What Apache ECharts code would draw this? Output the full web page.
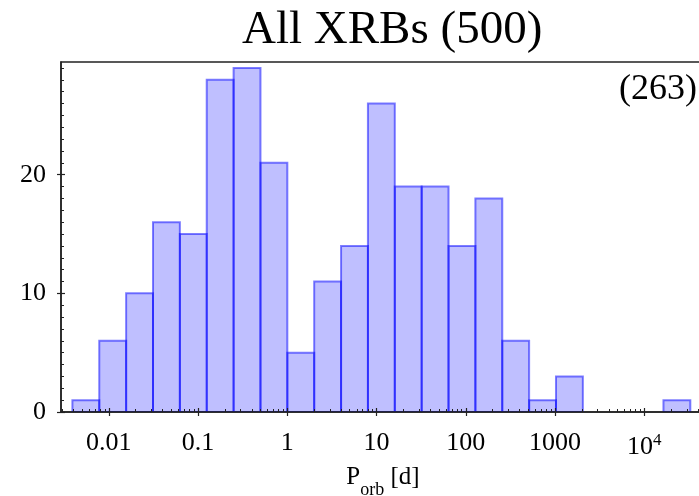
<!DOCTYPE html>
<html>
<head>
<meta charset="utf-8">
<script src="https://cdn.jsdelivr.net/npm/echarts@6/dist/echarts.min.js"></script>
<style>
  html, body { margin: 0; padding: 0; background: #fff; }
  #chart { width: 699px; height: 496px; }
</style>
</head>
<body>
<div id="chart"></div>
<script>
// bin edges are powers of two: 2^-8 ... 2^15 days
const binEdgesLog2 = [-8, -7, -6, -5, -4, -3, -2, -1, 0, 1, 2, 3, 4, 5, 6, 7, 8, 9, 10, 11, 12, 13, 14, 15]
const counts = [1, 6, 10, 16, 15, 28, 29, 21, 5, 11, 14, 26, 19, 19, 14, 18, 6, 1, 3, 0, 0, 0, 1]
const majorTicks = [-2, -1, 0, 1, 2, 3, 4]           // log10 of 0.01 ... 10^4
const tickLabels = ['0.01', '0.1', '1', '10', '100', '1000', '{b|10}{s|4}']
const yTicks = [0, 10, 20]
const titleText = 'All XRBs (500)'
const subsetText = '(263)'

const FONT = 'Liberation Serif'
const xMin = -2.536
const xMax = 4.68
const yMax = 29.5

// log-spaced minor ticks (2..9 x 10^n)
const minorTicks = []
for (let n = -3; n <= 4; n++) {
  for (let k = 2; k <= 9; k++) {
    const v = n + Math.log10(k)
    if (v > xMin && v < xMax) minorTicks.push(v)
  }
}
const yMinor = []
for (let i = 1; i < yMax; i++) if (i % 10 !== 0) yMinor.push(i)

const LOG2 = Math.log10(2)
const histData = counts.map((c, i) => [binEdgesLog2[i] * LOG2, binEdgesLog2[i + 1] * LOG2, c])

function renderBar(params, api) {
  if (!api.value(2)) return null
  const lo = api.coord([api.value(0), 0])
  const hi = api.coord([api.value(1), api.value(2)])
  return {
    type: 'rect',
    shape: { x: lo[0], y: hi[1], width: hi[0] - lo[0], height: lo[1] - hi[1] },
    style: { fill: 'rgba(0,0,255,0.25)', stroke: 'rgba(0,0,255,0.5)', lineWidth: 2 },
  }
}

const base = { type: 'value', min: xMin, max: xMax, position: 'bottom', offset: 0, z: 5, splitLine: { show: false } }
const yBase = { type: 'value', min: 0, max: yMax, position: 'left', offset: 0, z: 5, splitLine: { show: false } }
const noZero = (line) => ({ onZero: false, ...line })

const chart = echarts.init(document.getElementById('chart'), null, { renderer: 'canvas' })
chart.setOption({
  animation: false,
  title: {
    text: titleText,
    left: 242, top: 7, padding: 0,
    textStyle: { fontFamily: FONT, fontSize: 47, fontWeight: 'normal', color: '#000' },
  },
  graphic: [{
    type: 'text', right: 2, top: 72,
    style: { text: subsetText, font: '36px "Liberation Serif"', fill: '#000' },
  }],
  grid: {
    left: 61, right: -6, top: 62, bottom: 84, outerBoundsMode: 'none',
    show: true, borderColor: '#222', borderWidth: 1.5, backgroundColor: 'transparent',
  },
  xAxis: [
    {
      ...base,
      axisLine: noZero({ lineStyle: { color: '#222', width: 1.5 } }),
      axisTick: { inside: true, length: 4, customValues: majorTicks, lineStyle: { color: '#222', width: 1.2 } },
      axisLabel: {
        customValues: majorTicks, margin: 18, color: '#000', fontFamily: FONT, fontSize: 26,
        formatter: (v) => tickLabels[majorTicks.indexOf(Math.round(v))],
        rich: {
          b: { fontFamily: FONT, fontSize: 26, color: '#000', padding: [4, 0, 0, 0] },
          s: { fontFamily: FONT, fontSize: 17, color: '#000', padding: [0, 0, 8, 0] },
        },
      },
      name: '{p|P}{sub|orb}{p| [d]}',
      nameLocation: 'middle', nameGap: 37,
      nameTextStyle: {
        rich: {
          p: { fontFamily: FONT, fontSize: 25, color: '#000' },
          sub: { fontFamily: FONT, fontSize: 18, color: '#000', padding: [26, 0, 0, 0] },
        },
      },
    },
    { ...base, axisLine: noZero({ show: false }), axisLabel: { show: false },
      axisTick: { inside: false, length: 4, customValues: majorTicks, lineStyle: { color: '#222', width: 1.2 } } },
    { ...base, axisLine: noZero({ show: false }), axisLabel: { show: false },
      axisTick: { inside: true, length: 3, customValues: minorTicks, lineStyle: { color: '#222', width: 1 } } },
  ],
  yAxis: [
    {
      ...yBase, interval: 10,
      axisLine: noZero({ show: true, lineStyle: { color: '#222', width: 1.5 } }),
      axisTick: { show: true, inside: true, length: 4, customValues: yTicks, lineStyle: { color: '#222', width: 1.2 } },
      axisLabel: { customValues: yTicks, margin: 15, color: '#000', fontFamily: FONT, fontSize: 26 },
    },
    { ...yBase, axisLine: noZero({ show: false }), axisLabel: { show: false },
      axisTick: { show: true, inside: false, length: 4, customValues: yTicks, lineStyle: { color: '#222', width: 1.2 } } },
    { ...yBase, axisLine: noZero({ show: false }), axisLabel: { show: false },
      axisTick: { show: true, inside: true, length: 3, customValues: yMinor, lineStyle: { color: '#222', width: 1 } } },
  ],
  series: [{
    type: 'custom',
    xAxisIndex: 0, yAxisIndex: 0,
    renderItem: renderBar,
    encode: { x: [0, 1], y: 2 },
    data: histData,
    clip: true,
  }],
})
</script>
</body>
</html>
